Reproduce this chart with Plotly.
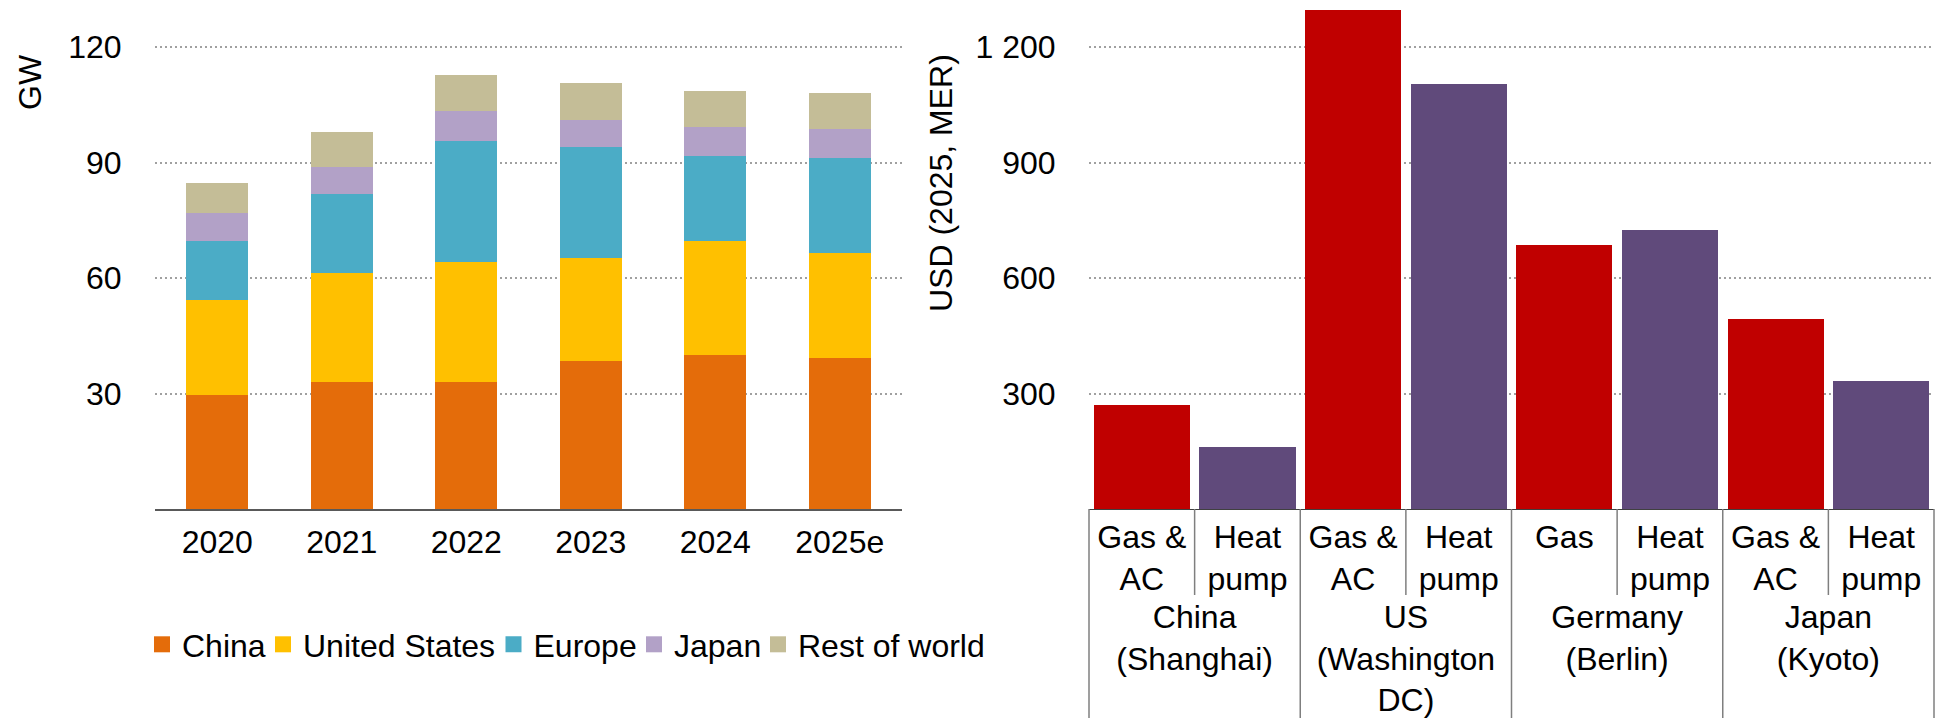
import plotly.graph_objects as go

# ---------------- data: left chart (GW, stacked) ----------------
years = ["2020", "2021", "2022", "2023", "2024", "2025e"]
china = [29.6, 33.0, 33.1, 38.5, 39.9, 39.2]
united_states = [24.8, 28.2, 31.1, 26.8, 29.8, 27.2]
europe = [15.3, 20.5, 31.4, 28.6, 22.0, 24.7]
japan = [7.1, 7.2, 7.7, 7.2, 7.6, 7.6]
rest_of_world = [8.0, 8.9, 9.3, 9.5, 9.3, 9.3]
gw_ticks = [30, 60, 90, 120]

# ---------------- data: right chart (USD 2025, MER) ----------------
cities = ["China<br>(Shanghai)", "US<br>(Washington<br>DC)", "Germany<br>(Berlin)", "Japan<br>(Kyoto)"]
conventional_labels = ["Gas &<br>AC", "Gas &<br>AC", "Gas", "Gas &<br>AC"]
heat_pump_labels = ["Heat<br>pump", "Heat<br>pump", "Heat<br>pump", "Heat<br>pump"]
conventional_costs = [270, 1295, 687, 493]
heat_pump_costs = [160, 1105, 724, 332]
usd_ticks = [300, 600, 900, 1200]
usd_ticktext = ["300", "600", "900", "1 200"]

# ---------------- styling ----------------
W, H = 1941, 718
FONT = "Liberation Sans, Arial, sans-serif"
FS = 32
series_colors = ["#E46C0A", "#FFC000", "#4BACC6", "#B2A1C7", "#C4BD97"]
legend_marker_centers_px = [164.5, 285.5, 516, 656.5, 780.5]
RED, PURPLE = "#C00000", "#604A7B"
GRID = "#A0A0A0"

plot_top_px, plot_bottom_px = 8.5, 509
ydom = [1 - plot_bottom_px / H, 1 - plot_top_px / H]
left_dom = [155 / W, 902 / W]
right_dom = [1089 / W, 1934 / W]

fig = go.Figure()

series = [("China", china), ("United States", united_states), ("Europe", europe),
          ("Japan", japan), ("Rest of world", rest_of_world)]
for (name, vals), col in zip(series, series_colors):
    fig.add_trace(go.Bar(x=years, y=vals, name=name, width=0.5,
                         marker=dict(color=col, line=dict(width=0)),
                         showlegend=False, xaxis="x", yaxis="y"))

legend_layouts = {}
for i, ((name, vals), col, cx) in enumerate(zip(series, series_colors, legend_marker_centers_px)):
    lname = "legend" if i == 0 else f"legend{i + 1}"
    fig.add_trace(go.Scatter(x=[None], y=[None], mode="markers", name=name, legend=lname,
                             marker=dict(symbol="square", size=16, color=col, line=dict(width=0)),
                             xaxis="x", yaxis="y"))
    legend_layouts[lname] = dict(orientation="h", x=(cx - 22.5) / W, y=1 - 644.5 / H,
                                 xanchor="left", yanchor="middle",
                                 font=dict(size=FS, family=FONT, color="black"),
                                 bgcolor="rgba(0,0,0,0)", borderwidth=0)

fig.add_trace(go.Bar(x=[cities, conventional_labels], y=conventional_costs, width=0.91,
                     name="Gas (& AC)", marker=dict(color=RED, line=dict(width=0)),
                     showlegend=False, xaxis="x2", yaxis="y2"))
fig.add_trace(go.Bar(x=[cities, heat_pump_labels], y=heat_pump_costs, width=0.91,
                     name="Heat pump", marker=dict(color=PURPLE, line=dict(width=0)),
                     showlegend=False, xaxis="x2", yaxis="y2"))

grid_common = dict(showgrid=True, gridcolor=GRID, gridwidth=2, griddash="2px,3px",
                   zeroline=False, ticks="outside", ticklen=26,
                   tickcolor="rgba(0,0,0,0)", showline=False)

fig.update_layout(
    width=W, height=H,
    margin=dict(l=0, r=0, t=0, b=0),
    paper_bgcolor="white", plot_bgcolor="white",
    barmode="stack",
    font=dict(family=FONT, size=FS, color="black"),
    xaxis=dict(domain=left_dom, type="category", anchor="y", showgrid=False,
               showline=True, linecolor="#595959", linewidth=1.5,
               ticks="outside", ticklen=4, tickcolor="rgba(0,0,0,0)"),
    yaxis=dict(domain=ydom, range=[0, 130], tickvals=gw_ticks, anchor="x", **grid_common),
    xaxis2=dict(domain=right_dom, type="multicategory", anchor="y2", showgrid=False,
                showline=True, linecolor="#404040", linewidth=1,
                showdividers=False, ticks=""),
    yaxis2=dict(domain=ydom, range=[0, 1300], tickvals=usd_ticks, ticktext=usd_ticktext,
                anchor="x2", **grid_common),
    showlegend=True,
    **legend_layouts,
)

# table lines under right chart
n = len(conventional_costs) + len(heat_pump_costs)
base_y = 1 - plot_bottom_px / H
sub_end_y = 1 - 595 / H
for k in range(n + 1):
    fig.add_shape(type="line", xref="x2 domain", yref="paper",
                  x0=k / n, x1=k / n, y0=base_y, y1=(0 if k % 2 == 0 else sub_end_y),
                  line=dict(color="#7F7F7F", width=1.5))

fig.add_annotation(text="GW", x=30 / W, y=1 - 82 / H, xref="paper", yref="paper",
                   textangle=-90, showarrow=False, xanchor="center", yanchor="middle",
                   font=dict(size=FS, family=FONT, color="black"))
fig.add_annotation(text="USD (2025, MER)", x=941 / W, y=1 - 183 / H, xref="paper", yref="paper",
                   textangle=-90, showarrow=False, xanchor="center", yanchor="middle",
                   font=dict(size=FS, family=FONT, color="black"))

fig.write_html("out.html", config={"displayModeBar": False},
               post_script="document.body.style.margin='0';document.body.style.overflow='hidden';")
